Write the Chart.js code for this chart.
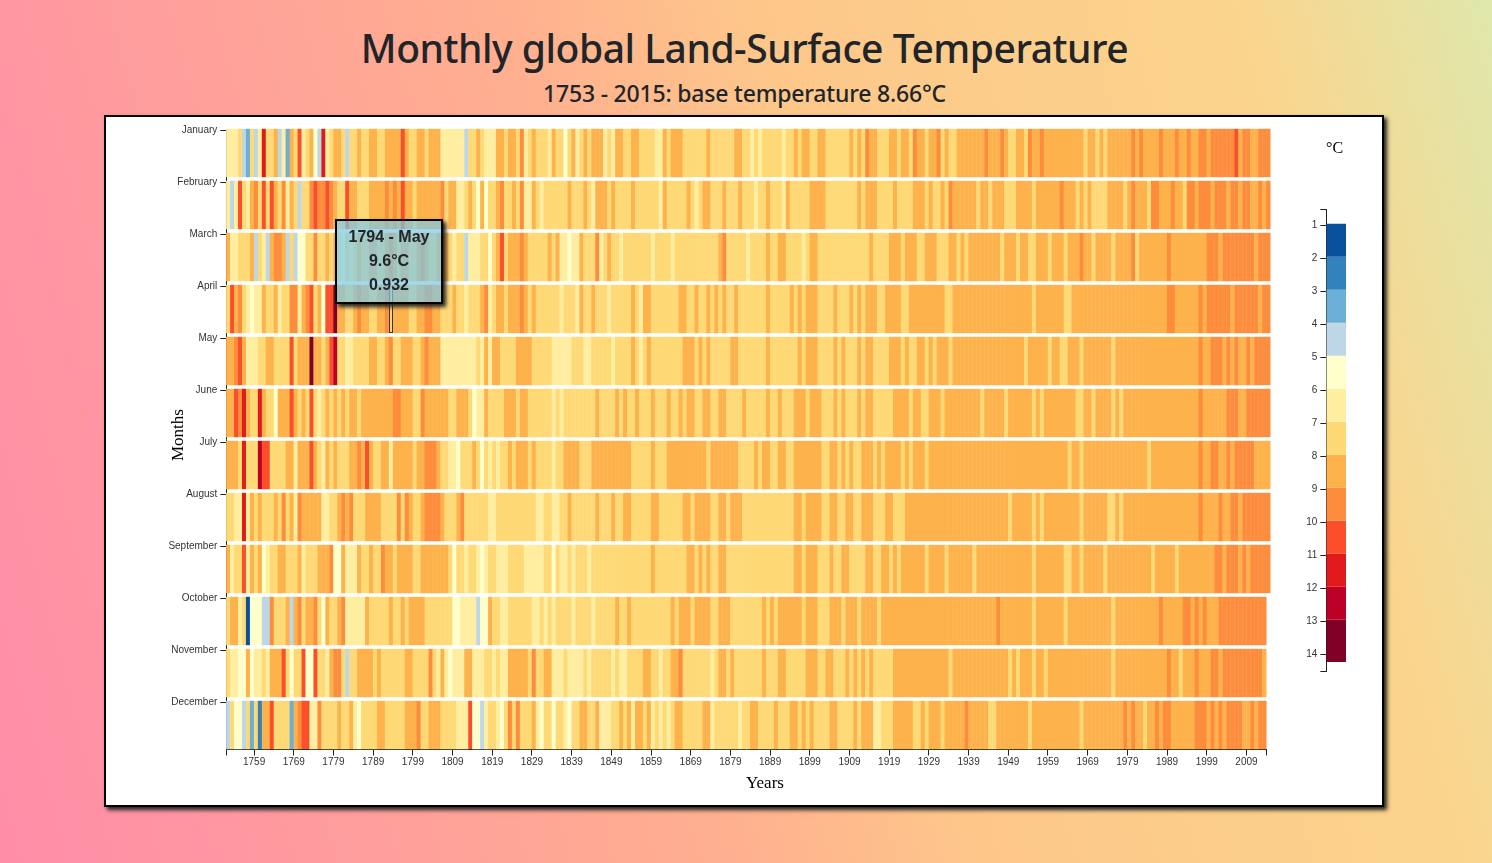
<!DOCTYPE html>
<html lang="en">
<head>
<meta charset="utf-8">
<title>Monthly global Land-Surface Temperature</title>
<script src="https://cdn.jsdelivr.net/npm/chart.js@4"></script>
<style>
  html, body { margin: 0; height: 100%; overflow: hidden; }
  body {
    position: relative;
    background: linear-gradient(75deg, #ff8ca8 0%, #ff98a0 15%, #ffb08f 43%, #fdc78a 57%, #fbd48c 85%, #dfe8ac 100%);
    color: #212529;
    font-family: "Noto Sans", sans-serif;
  }
  h1, h2 { position: absolute; left: 0; width: 1489px; margin: 0; text-align: center; font-weight: 500; }
  h1 { top: 21px; font-size: 39px; line-height: 54px; letter-spacing: -0.47px; }
  h2 { top: 77px; font-size: 23px; line-height: 33px; letter-spacing: -0.2px; }
  #panel {
    position: absolute; left: 104px; top: 115px; width: 1276px; height: 688px;
    background: #fff; border: 2px solid #000; box-shadow: 3px 3px 4px #222;
  }
  canvas { position: absolute; }
  #heatmap { left: 108px; top: 118px; }
  #scale { left: 1280px; top: 200px; }
  .axis-title { position: absolute; font: 16px "Liberation Serif", serif; color: #000; white-space: nowrap; }
  #tooltip {
    position: absolute; left: 335px; top: 219px; width: 104px; height: 77px; padding-top: 4px;
    background: rgba(124, 200, 231, 0.7); border: 2px solid #000; box-shadow: 3px 3px 4px #222;
    font: bold 16px/24px "Liberation Sans", sans-serif; text-align: center; color: #212529;
  }
</style>
</head>
<body>
<h1>Monthly global Land-Surface Temperature</h1>
<h2>1753 - 2015: base temperature 8.66°C</h2>
<div id="panel"></div>
<canvas id="heatmap" width="1190" height="670"></canvas>
<canvas id="scale" width="66" height="480"></canvas>
<span class="axis-title" style="left:746px;top:773px;font-size:17px">Years</span>
<span class="axis-title" style="left:178px;top:435px;font-size:17px;transform:translate(-50%,-50%) rotate(-90deg)">Months</span>
<span class="axis-title" style="left:1326px;top:139px">°C</span>
<div id="tooltip"></div>
<script>
const monthNames = ['January', 'February', 'March', 'April', 'May', 'June', 'July', 'August', 'September', 'October', 'November', 'December'];
const tickYears = [1759, 1769, 1779, 1789, 1799, 1809, 1819, 1829, 1839, 1849, 1859, 1869, 1879, 1889, 1899, 1909, 1919, 1929, 1939, 1949, 1959, 1969, 1979, 1989, 1999, 2009];
const scaleTicks = [1, 2, 3, 4, 5, 6, 7, 8, 9, 10, 11, 12, 13, 14];
const bandEdges = [0.95, 1.95, 2.95, 3.95, 4.95, 5.95, 6.95, 7.95, 8.95, 9.95, 10.95, 11.95, 12.95, 14.23];
const bandColors = ['#08519c', '#3182bd', '#6baed6', '#bdd7e7', '#ffffcc', '#ffeda0', '#fed976', '#feb24c', '#fd8d3c', '#fc4e2a', '#e31a1c', '#bd0026', '#800026'];

// temperature per year from 1753, whole degrees (one group = ten years)
const january = [
  6,6,6,7,4,3,7,4,6,11, 7,7,8,4,6,3,8,7,10,6, 7,8,5,4,11,6,7,8,8,7, 4,7,7,8,7,7,8,8,7,7,
  8,8,8,8,10,8,7,7,8,8, 7,8,8,8,6,6,6,6,6,6, 4,7,7,8,7,6,6,6,8,8, 7,8,8,7,9,6,7,8,7,7,
  7,6,8,7,7,5,7,8,6,7, 8,7,8,8,8,6,7,6,8,8, 7,7,8,8,7,7,7,7,6,6, 8,7,8,8,8,7,7,7,7,7,
  7,8,7,7,7,7,7,7,8,8, 7,7,6,7,6,7,7,7,7,7, 6,7,7,8,7,8,8,7,7,8, 8,7,7,7,7,7,7,8,7,8,
  7,9,8,8,7,7,7,8,8,7, 8,8,7,9,8,8,7,8,8,9, 7,8,7,7,8,8,8,8,8,8, 8,9,8,8,8,9,8,7,7,8,
  8,7,9,8,8,9,8,8,8,8, 8,8,8,8,8,8,7,8,8,7, 8,7,8,8,8,8,8,8,9,8, 9,8,8,8,8,9,8,8,8,9,
  8,8,9,8,8,9,9,8,9,9, 9,9,9,9,10,8,9,9,8,8, 9,9,9];
const february = [
  6,4,6,10,7,6,8,9,7,10, 7,10,8,7,9,6,8,7,4,7, 7,9,10,9,9,10,9,8,7,7, 10,8,8,7,7,7,8,8,8,8,
  9,8,9,8,10,8,8,7,8,8, 8,8,8,8,9,7,8,8,6,6, 7,8,7,5,8,5,7,7,8,9, 7,7,8,7,9,6,6,8,7,6,
  7,7,7,7,7,7,8,7,7,7, 8,7,6,8,8,8,7,8,7,7, 7,7,8,7,7,7,7,7,7,6, 8,7,7,7,7,7,8,7,6,7,
  8,8,7,7,7,8,7,7,7,8, 7,7,7,6,7,7,8,7,7,7, 6,8,7,7,7,7,7,8,8,8, 8,7,7,7,7,7,7,7,7,8,
  7,8,8,8,7,7,7,7,8,7, 7,7,7,8,8,8,7,8,7,7, 8,7,9,8,8,8,8,8,8,7, 8,8,7,8,8,8,7,7,7,8,
  8,8,8,7,8,8,8,8,8,8, 9,8,8,8,7,8,7,8,7,7, 7,7,8,8,8,8,7,8,9,8, 8,8,7,9,9,8,8,8,9,8,
  8,7,9,9,8,9,9,9,8,9, 9,9,8,9,9,8,9,9,8,8, 9,8,9];
const march = [
  8,6,6,7,7,7,8,4,7,6, 4,8,9,9,8,4,7,4,5,5, 7,7,9,7,7,8,7,8,6,5, 7,6,7,8,7,7,8,8,7,7,
  8,9,8,7,8,8,7,7,8,9, 8,7,7,8,8,8,7,6,7,7, 4,6,6,6,7,7,5,7,8,10, 7,8,8,8,9,8,7,7,7,7,
  7,8,7,8,6,6,5,6,6,8, 7,7,7,9,6,7,8,7,7,6, 7,7,7,7,7,7,7,6,7,7, 7,7,6,7,7,7,7,7,7,7,
  7,7,7,7,8,9,7,7,7,7, 7,6,7,7,7,7,8,7,7,8, 8,7,7,7,7,6,7,8,8,7, 7,7,7,7,7,7,7,7,7,7,
  7,7,8,7,7,7,7,8,8,8, 7,8,8,8,7,7,8,8,8,7, 7,7,8,8,7,8,7,8,8,8, 8,8,8,8,8,7,8,8,8,7,
  8,8,7,7,8,8,8,7,8,8, 8,7,8,8,8,9,8,8,7,8, 8,8,8,7,8,8,8,8,9,7, 8,8,8,8,8,8,8,9,8,8,
  8,8,8,8,8,8,8,9,9,9, 8,9,9,9,9,9,9,9,9,8, 9,9,9];
const april = [
  7,10,8,9,7,6,5,6,6,8, 7,7,8,6,7,7,9,9,6,8, 9,10,7,8,5,10,10,13,8,8, 7,7,8,9,8,8,7,7,8,8,
  9,7,8,8,8,8,7,7,8,8, 9,9,8,8,7,7,7,8,7,7, 6,7,7,7,8,9,6,7,8,8, 7,8,8,8,9,8,7,8,7,7,
  7,7,7,7,6,7,7,7,6,8, 7,7,8,7,7,7,6,7,7,7, 7,7,8,7,6,8,8,7,7,7, 7,7,7,7,8,8,7,7,8,7,
  7,8,7,8,7,8,7,7,8,7, 7,7,7,7,7,7,8,7,7,7, 7,7,8,7,8,7,8,8,8,7, 7,7,7,8,7,7,7,8,7,8,
  7,8,8,8,7,7,8,8,8,8, 7,7,8,8,8,8,8,8,8,8, 8,7,7,8,8,8,8,8,8,8, 8,8,8,8,8,8,8,8,8,8,
  8,8,8,7,8,8,8,8,8,8, 8,7,7,8,8,8,8,8,8,8, 8,8,8,8,8,8,8,8,8,8, 8,8,8,8,8,8,8,9,9,8,
  8,8,8,8,8,9,8,9,9,9, 9,9,9,8,9,9,9,9,9,9, 8,9,9];
const may = [
  8,8,9,10,8,6,6,6,7,7, 8,8,7,7,7,7,10,7,8,8, 8,13,8,8,7,8,10,12,7,7, 6,6,7,7,7,7,8,8,7,7,
  8,9,7,7,8,8,8,7,7,8, 9,8,8,8,6,6,6,6,6,6, 6,6,6,7,6,8,6,8,8,7, 7,7,7,8,8,8,8,7,7,7,
  7,7,6,6,6,6,6,7,7,7, 6,6,7,7,7,7,7,6,7,7, 7,7,8,7,6,7,8,7,7,7, 7,7,7,7,7,8,8,8,7,8,
  7,8,7,7,7,7,7,8,8,7, 7,7,7,7,7,7,8,7,7,7, 7,7,7,7,8,7,8,8,8,7, 7,7,7,8,7,8,7,7,7,8,
  7,8,8,7,7,7,7,8,8,8, 7,8,7,7,8,8,7,8,7,8, 8,8,7,8,8,8,8,8,8,8, 8,8,8,8,8,8,8,8,8,8,
  8,7,8,8,8,8,8,7,8,8, 7,7,8,8,8,7,8,8,8,8, 8,8,8,7,8,8,8,8,8,8, 8,8,8,8,8,8,8,8,8,8,
  8,8,8,8,8,9,8,8,9,9, 9,8,9,8,9,8,8,9,8,9, 9,9,9];
const june = [
  8,8,10,9,11,8,7,7,11,8, 7,7,5,8,8,8,10,8,7,8, 7,10,7,6,7,8,7,8,7,8, 7,8,8,7,8,8,8,8,8,8,
  8,8,9,9,8,8,8,7,7,9, 8,8,8,8,8,8,7,7,8,8, 8,7,5,6,6,8,7,7,7,7, 8,8,8,7,8,8,7,7,7,7,
  7,7,6,7,6,7,7,7,7,7, 7,7,7,8,7,7,7,7,8,7, 8,7,7,8,7,7,7,8,7,7, 7,8,7,7,8,7,8,8,7,7,
  8,8,7,7,8,8,7,7,7,7, 8,7,7,7,7,7,8,7,7,8, 7,7,7,8,8,8,7,8,8,8, 7,7,7,8,7,8,7,7,7,8,
  7,8,8,7,7,7,7,7,8,8, 8,8,7,8,8,7,7,8,8,8, 7,8,8,8,8,8,8,8,8,8, 7,8,8,8,8,8,7,8,8,8,
  8,8,8,7,8,7,8,8,8,8, 8,8,8,8,7,7,8,8,7,8, 8,8,8,7,8,7,8,8,8,8, 8,8,8,8,8,8,8,8,8,8,
  8,8,8,8,8,9,8,8,8,8, 8,8,9,9,9,8,8,9,9,9, 9,9,9];
const july = [
  8,8,8,7,11,7,7,7,12,10, 10,7,7,7,7,8,8,6,8,8, 8,10,8,7,6,8,7,8,7,7, 7,8,8,9,8,10,8,7,7,8,
  8,6,8,8,8,8,8,7,8,8, 9,9,9,8,7,7,6,6,5,7, 7,7,8,7,5,7,6,7,6,7, 7,8,7,8,8,8,7,8,7,7,
  7,7,6,7,7,8,8,8,8,7, 7,7,8,8,8,8,8,8,8,8, 8,8,7,7,7,7,7,8,7,7, 7,8,8,8,8,8,8,8,8,8,
  8,7,8,8,8,8,8,8,8,7, 7,7,7,8,7,8,8,7,7,8, 8,7,7,8,8,8,8,8,8,8, 7,7,8,8,7,8,7,8,7,7,
  8,8,8,7,8,7,8,8,8,8, 7,8,7,8,8,8,7,8,8,8, 8,8,8,8,8,8,8,8,8,8, 8,8,8,8,8,8,8,8,8,8,
  8,8,8,8,8,8,8,8,8,8, 8,8,7,8,8,7,8,8,8,8, 8,8,8,8,8,8,8,8,8,8, 8,8,7,8,8,8,8,8,8,8,
  8,8,8,8,8,9,8,8,9,9, 8,8,9,8,9,9,9,9,9,8, 8,8,8];
const august = [
  7,7,6,6,11,6,8,7,8,7, 7,7,8,7,9,7,8,6,9,8, 8,8,8,8,6,6,7,7,8,9, 8,9,7,7,7,8,8,8,8,7,
  7,7,7,9,7,9,8,7,7,8, 9,9,9,9,8,7,7,7,8,9, 7,7,7,7,7,7,6,6,7,7, 7,7,7,7,7,7,7,7,6,6,
  7,7,6,6,7,7,8,7,7,7, 7,7,7,8,7,7,7,8,7,7, 8,8,7,7,7,7,7,8,8,7, 7,7,7,7,7,8,8,7,8,8,
  8,8,7,7,8,8,7,8,8,8, 7,7,7,7,7,7,7,7,7,7, 7,7,7,8,8,7,8,8,8,8, 7,7,8,8,7,7,8,8,7,7,
  8,8,8,7,7,7,8,8,7,7, 7,8,8,8,8,8,8,8,8,8, 8,8,8,8,8,8,8,8,8,8, 8,8,8,8,8,8,8,7,8,8,
  8,8,8,7,8,7,8,8,8,8, 8,8,8,8,8,7,8,8,8,8, 8,8,7,7,8,7,8,8,8,8, 8,8,8,8,8,8,8,8,8,8,
  8,8,8,8,8,9,8,8,8,8, 9,8,8,9,9,8,9,9,9,9, 9,9,9];
const september = [
  8,6,7,7,10,6,8,7,8,5, 6,7,7,8,8,7,7,7,8,6, 7,7,7,8,8,8,9,5,5,8, 6,6,6,8,7,7,8,7,7,9,
  8,8,7,8,8,8,8,7,7,8, 8,8,8,8,8,8,7,5,7,7, 6,7,7,6,5,6,7,7,6,6, 6,7,7,7,7,6,6,6,6,6,
  7,7,5,7,6,6,7,6,7,7, 7,6,7,7,7,7,7,7,7,7, 7,7,7,7,7,7,7,8,7,7, 7,7,7,7,7,7,8,8,7,8,
  7,8,7,7,8,8,7,7,7,7, 7,7,7,7,7,7,7,7,7,7, 7,7,7,8,8,7,8,8,8,7, 7,7,8,7,7,8,8,7,7,7,
  7,8,8,7,7,8,8,7,8,7, 8,8,8,8,8,8,7,8,8,8, 8,7,8,8,8,8,8,8,7,8, 8,8,8,8,8,8,8,8,8,8,
  8,8,8,7,8,8,8,8,8,8, 8,7,7,8,8,7,8,8,8,8, 8,7,8,8,8,8,8,8,8,8, 8,8,8,7,8,8,8,8,8,7,
  8,8,8,8,8,8,8,8,8,9, 9,8,9,9,9,8,9,8,9,9, 9,9,9];
const october = [
  7,8,8,6,7,1,5,5,5,4, 4,9,7,7,7,8,4,8,9,7, 8,8,9,7,5,8,7,7,8,9, 6,6,6,6,6,8,7,7,7,7,
  7,8,7,7,8,7,8,8,8,8, 7,7,7,7,7,7,7,5,5,6, 6,6,6,4,5,5,8,7,7,6, 6,7,7,7,7,7,7,6,6,7,
  6,7,6,7,7,7,7,6,7,7, 7,7,6,7,7,7,7,7,8,7, 7,8,7,7,7,7,7,7,7,7, 7,7,8,7,8,8,8,7,8,8,
  8,8,7,7,8,8,8,7,7,7, 7,7,7,7,7,8,7,8,7,8, 8,8,8,8,8,7,8,8,8,7, 7,7,8,8,8,7,8,8,8,7,
  8,8,8,8,7,8,8,8,8,8, 8,8,8,8,8,8,8,8,8,8, 8,8,8,8,8,8,8,8,8,8, 8,8,8,8,9,8,8,8,8,8,
  8,8,8,7,8,8,8,8,8,8, 8,7,8,8,8,8,8,8,8,8, 8,8,8,7,8,8,8,8,8,8, 8,8,8,8,8,9,8,8,8,8,
  8,9,9,8,9,8,9,8,8,8, 9,9,9,9,9,9,9,9,9,9, 9,9];
const november = [
  7,6,6,5,5,8,5,6,6,7, 6,8,8,8,10,7,5,7,7,10, 5,5,10,7,7,6,8,9,9,7, 4,7,7,8,8,8,8,7,8,7,
  7,7,7,7,7,8,8,7,7,7, 7,9,7,6,8,6,5,6,6,6, 8,8,6,6,6,7,7,6,7,6, 6,8,8,8,8,8,7,9,7,7,
  8,8,6,6,6,7,6,6,6,6, 7,6,7,7,7,7,7,6,7,6, 6,7,7,7,7,8,8,7,7,6, 7,7,8,8,9,7,7,7,7,7,
  7,7,6,7,8,8,7,8,7,7, 7,7,7,7,7,8,7,7,7,8, 8,7,7,7,7,7,8,8,8,7, 7,8,8,7,7,7,8,7,8,7,
  8,7,8,7,7,7,7,7,8,8, 8,8,8,8,8,8,8,8,8,8, 8,8,7,8,8,8,8,8,8,8, 8,8,8,8,8,8,8,7,8,7,
  8,8,8,7,8,8,7,8,8,8, 8,8,8,8,8,8,8,8,8,8, 8,8,8,7,8,8,8,8,8,8, 8,8,8,8,8,8,8,9,8,8,
  7,8,8,8,9,8,8,8,9,9, 8,9,9,9,9,9,9,9,9,9, 9,8];
const december = [
  4,7,5,5,4,7,3,7,2,8, 8,10,7,7,7,7,3,8,9,10, 10,6,6,9,7,7,7,7,8,7, 7,8,6,5,7,7,7,7,8,8,
  7,7,7,7,7,8,8,8,9,7, 7,8,8,8,7,7,7,7,6,6, 6,10,5,5,4,6,7,7,6,5, 7,9,7,9,7,7,7,8,6,5,
  7,7,5,7,7,6,5,7,7,8, 8,7,7,8,6,6,6,7,7,8, 7,8,6,8,8,7,8,6,7,6, 7,6,7,8,8,7,7,7,7,7,
  8,8,6,7,7,7,7,7,7,6, 7,7,8,8,7,7,7,7,8,7, 7,7,8,8,7,8,7,8,7,7, 7,7,8,8,7,7,7,7,8,7,
  8,8,8,6,6,7,7,7,8,8, 8,8,8,7,7,8,7,8,8,8, 7,8,8,8,8,8,9,8,8,8, 8,8,7,7,8,8,8,8,8,8,
  8,8,7,8,8,8,8,8,8,8, 8,8,8,8,8,7,8,8,8,8, 8,8,8,8,8,8,9,8,9,8, 8,7,8,8,9,8,9,9,8,8,
  8,8,8,8,9,9,9,8,9,8, 9,8,9,9,9,9,8,8,9,8, 9,9];

const monthSeries = [january, february, march, april, may, june, july, august, september, october, november, december];

// the hovered cell and its tooltip
const hoverYear = 1794;
const hoverMonth = 'May';
const hoverTemp = '9.6°C';
const hoverVariance = '0.932';
const hoverRow = 3;

const firstYear = 1753;
const rowTop = -0.02;
const rowBottom = 0.903;

document.getElementById('tooltip').innerHTML = `${hoverYear} - ${hoverMonth}<br>${hoverTemp}<br>${hoverVariance}`;

const sansFont = { family: '"Liberation Sans", sans-serif', size: 10 };

// one dataset per month, each cell a floating bar, the overlay dataset comes first so it draws on top
const heatmapDatasets = monthSeries.map((values, m) => ({
    label: monthNames[m],
    data: values.map((t, i) => ({ x: firstYear + i - 0.5, y: [m + rowTop, m + rowBottom] })),
    backgroundColor: values.map(t => bandColors[t - 1]),
    inflateAmount: 0.2,
    clip: false
}));
heatmapDatasets.unshift({
    label: 'hover',
    data: [{ x: hoverYear - 0.5, y: [hoverRow + rowTop, hoverRow + rowBottom] }],
    backgroundColor: 'rgba(0,0,0,0)',
    borderColor: '#333',
    borderWidth: 1,
    inflateAmount: 0,
    clip: false
});

new Chart(document.getElementById('heatmap'), {
    type: 'bar',
    data: { datasets: heatmapDatasets },
    options: {
        responsive: false,
        animation: false,
        events: [],
        layout: { padding: { top: 11, right: 31.7, left: 0, bottom: 0 } },
        grouped: false,
        barPercentage: 1,
        categoryPercentage: 1,
        plugins: { legend: { display: false }, tooltip: { enabled: false } },
        scales: {
            x: {
                type: 'linear',
                offset: false,
                min: 1752,
                max: 2014,
                afterFit: s => { s.height = 38.5; },
                afterBuildTicks: s => { s.ticks = [1752, ...tickYears, 2014].map(value => ({ value })); },
                grid: { offset: false, drawOnChartArea: false, color: '#222', tickLength: 6 },
                border: { color: '#222' },
                ticks: {
                    autoSkip: false,
                    maxRotation: 0,
                    padding: 1,
                    color: '#333',
                    font: sansFont,
                    callback: v => (tickYears.includes(v) ? String(v) : '')
                }
            },
            y: {
                type: 'linear',
                reverse: true,
                min: rowTop,
                max: rowTop + 620.5 / 52,
                afterFit: s => { s.width = 118.3; },
                afterBuildTicks: s => { s.ticks = monthNames.map((name, value) => ({ value })); },
                grid: { drawOnChartArea: false, color: '#222', tickLength: 6 },
                border: { color: '#222' },
                ticks: {
                    autoSkip: false,
                    padding: 3,
                    color: '#333',
                    font: sansFont,
                    callback: v => monthNames[v]
                }
            }
        }
    }
});

// colour key on the right
new Chart(document.getElementById('scale'), {
    type: 'bar',
    data: {
        labels: ['°C'],
        datasets: bandColors.map((color, i) => ({
            data: [[bandEdges[i], bandEdges[i + 1]]],
            backgroundColor: color,
            inflateAmount: 0
        }))
    },
    options: {
        responsive: false,
        animation: false,
        events: [],
        layout: { padding: { top: 9, bottom: 9, left: 0, right: 0 } },
        grouped: false,
        barPercentage: 1,
        categoryPercentage: 1,
        plugins: { legend: { display: false }, tooltip: { enabled: false } },
        scales: {
            x: { display: false },
            y: {
                type: 'linear',
                reverse: true,
                min: 0.5,
                max: 14.5,
                afterFit: s => { s.width = 46.3; },
                afterBuildTicks: s => { s.ticks = [0.5, ...scaleTicks, 14.5].map(value => ({ value })); },
                grid: { drawOnChartArea: false, color: '#222', tickLength: 6 },
                border: { color: '#222' },
                ticks: {
                    autoSkip: false,
                    padding: 3,
                    color: '#333',
                    font: sansFont,
                    callback: v => (scaleTicks.includes(v) ? String(v) : '')
                }
            }
        }
    }
});
</script>
</body>
</html>
